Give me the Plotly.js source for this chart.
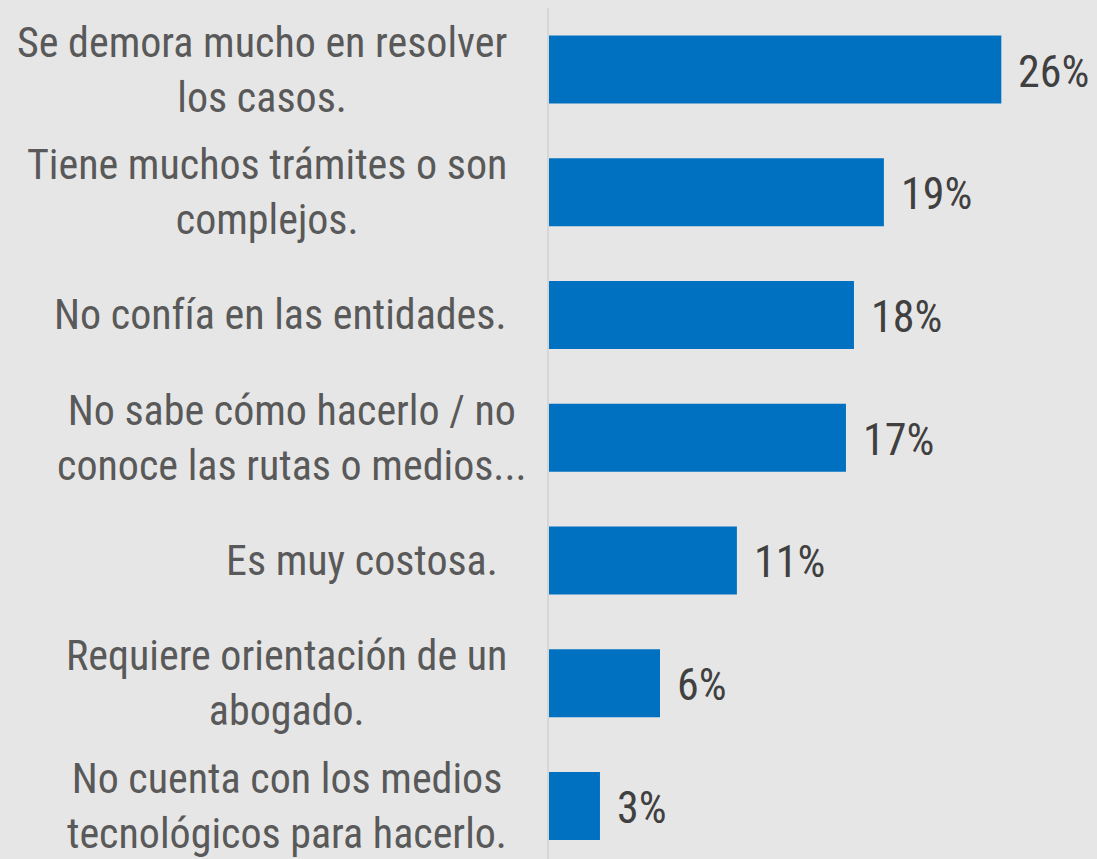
<!DOCTYPE html>
<html>
<head>
<meta charset="utf-8">
<script src="https://cdn.plot.ly/plotly-3.0.1.min.js"></script>
<style>html,body{margin:0;padding:0;background:#e6e6e6;}#chart{width:1097px;height:859px;}</style>
</head>
<body>
<div id="chart"></div>
<script>
const categories = [
  'Se demora mucho en resolver<br>los casos.',
  'Tiene muchos trámites o son<br>complejos.',
  'No confía en las entidades.',
  'No sabe cómo hacerlo / no<br>conoce las rutas o medios...',
  'Es muy costosa. ',
  'Requiere orientación de un<br>abogado.',
  'No cuenta con los medios<br>tecnológicos para hacerlo.'
];
const values = [26.0, 19.25, 17.53, 17.07, 10.8, 6.38, 2.93];
const valueLabels = ['26%', '19%', '18%', '17%', '11%', '6%', '3%'];

const FONT = 'Roboto Condensed, Liberation Sans Narrow, DejaVu Sans Condensed, Roboto, sans-serif';

const trace = {
  type: 'bar',
  orientation: 'h',
  x: values,
  y: categories,
  marker: {color: '#0070c0'},
  hoverinfo: 'skip'
};

const annotations = [];
categories.forEach((c, i) => {
  annotations.push({
    xref: 'paper', yref: 'y', x: 0, y: c,
    text: c, showarrow: false, xanchor: 'right', yanchor: 'middle',
    align: 'center', xshift: (i === 3 ? -20 : -40),
    font: {family: FONT, size: 42, color: '#595959'}
  });
  annotations.push({
    xref: 'x', yref: 'y', x: values[i], y: c,
    text: valueLabels[i], showarrow: false, xanchor: 'left', yanchor: 'middle',
    xshift: 15, yshift: -2,
    font: {family: FONT, size: 44, color: '#404040'}
  });
});

const layout = {
  width: 1097, height: 859,
  margin: {l: 549, r: 0, t: 8, b: 0, pad: 0},
  paper_bgcolor: '#e6e6e6',
  plot_bgcolor: '#e6e6e6',
  bargap: 0.446,
  showlegend: false,
  xaxis: {range: [0, 31.5], showgrid: false, zeroline: false, showticklabels: false, ticks: ''},
  yaxis: {type: 'category', categoryarray: categories, range: [6.432, -0.501],
          showticklabels: false, ticks: '', showgrid: false, zeroline: false,
          showline: true, linecolor: '#d6d6d6', linewidth: 2},
  annotations: annotations
};

Plotly.newPlot('chart', [trace], layout, {displayModeBar: false, staticPlot: true});
</script>
</body>
</html>
